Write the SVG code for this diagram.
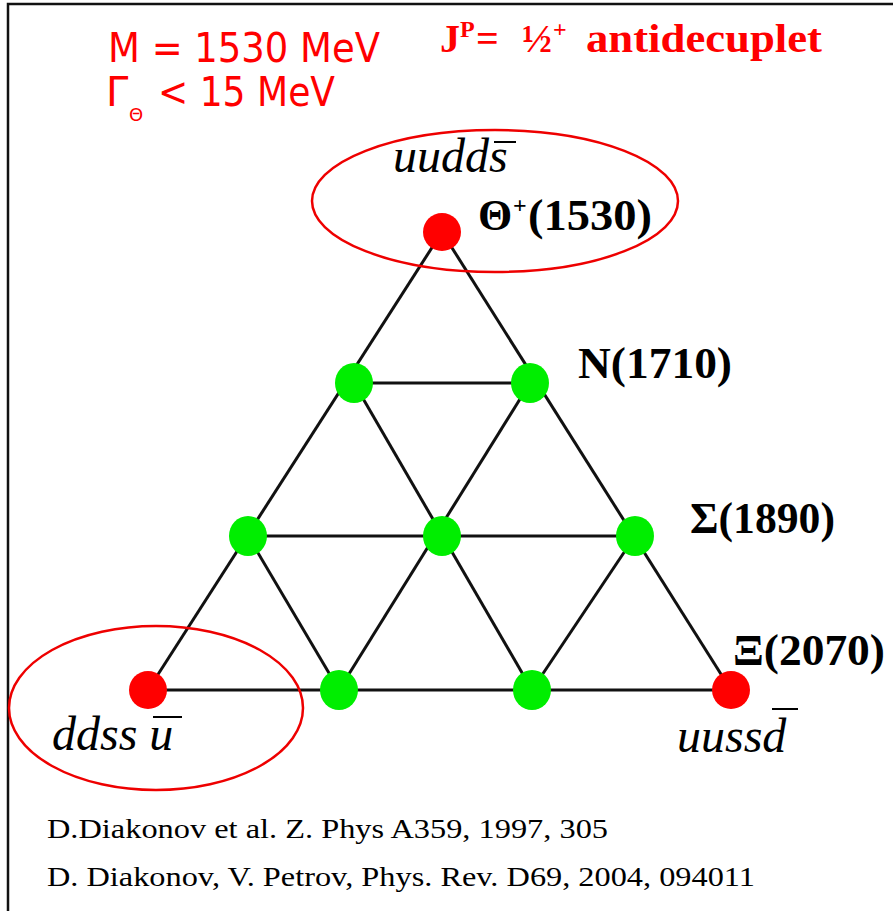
<svg xmlns="http://www.w3.org/2000/svg" width="893" height="911" viewBox="0 0 893 911">
<style>
.edge{stroke:#111;stroke-width:3;fill:none}
.red{fill:#ff0000}
.green{fill:#00ee00}
.ring{fill:none;stroke:#ee0000;stroke-width:2.5}
.lab{font-family:"Liberation Serif","Times New Roman",serif;font-weight:bold;fill:#000}
.q{font-family:"Liberation Serif","Times New Roman",serif;font-style:italic;fill:#000}
.hd{font-family:"DejaVu Sans","Liberation Sans",sans-serif;fill:#ff0000}
.hs{font-family:"Liberation Serif","Times New Roman",serif;font-weight:bold;fill:#ff0000}
.ref{font-family:"Liberation Serif","Times New Roman",serif;fill:#000;font-size:27px}
.bar{stroke:#000;stroke-width:2}
</style>
<rect width="893" height="911" fill="#fff"/>
<path d="M8 911V4H893" fill="none" stroke="#111" stroke-width="2.5"/>
<g id="header">
<text class="hd" x="108" y="62" font-size="40" textLength="272" lengthAdjust="spacingAndGlyphs">M = 1530 MeV</text>
<text class="hd" x="106" y="106" font-size="40">Γ</text>
<text class="hd" x="129" y="121" font-size="18">Θ</text>
<text class="hd" x="158" y="106" font-size="40" textLength="177" lengthAdjust="spacingAndGlyphs">&lt; 15 MeV</text>
<text class="hs" y="52" font-size="40"><tspan x="440">J</tspan><tspan x="460" font-size="24" dy="-15">P</tspan><tspan x="476" dy="15">=</tspan><tspan x="522">½</tspan><tspan x="553" font-size="24" dy="-15">+</tspan><tspan x="586" dy="15" textLength="236" lengthAdjust="spacingAndGlyphs">antidecuplet</tspan></text>
</g>
<g id="connectors">
<line class="edge" x1="442" y1="232" x2="148" y2="690"/>
<line class="edge" x1="442" y1="232" x2="731" y2="690"/>
<line class="edge" x1="148" y1="690" x2="731" y2="690"/>
<line class="edge" x1="354" y1="383" x2="530" y2="383"/>
<line class="edge" x1="248" y1="536" x2="635" y2="536"/>
<line class="edge" x1="354" y1="383" x2="532" y2="690"/>
<line class="edge" x1="530" y1="383" x2="339" y2="690"/>
<line class="edge" x1="248" y1="536" x2="339" y2="690"/>
<line class="edge" x1="635" y1="536" x2="532" y2="690"/>
</g>
<g id="theta">
<ellipse class="ring" cx="495" cy="201" rx="183" ry="71"/>
<circle class="red" cx="442" cy="232" r="19"/>
<text class="q" x="393" y="172" font-size="48">uudds</text>
<line class="bar" x1="494" y1="142" x2="516" y2="142"/>
<text class="lab" y="230" font-size="44"><tspan x="478">Θ</tspan><tspan x="513" font-size="24" dy="-17">+</tspan><tspan x="528" dy="17" textLength="124" lengthAdjust="spacingAndGlyphs">(1530)</tspan></text>
</g>
<g id="n-left"><ellipse class="green" cx="354" cy="383" rx="19" ry="20"/></g>
<g id="n-right"><ellipse class="green" cx="530" cy="383" rx="19" ry="20"/></g>
<text class="lab" x="578" y="378" font-size="44" textLength="154" lengthAdjust="spacingAndGlyphs">N(1710)</text>
<g id="sigma-left"><ellipse class="green" cx="248" cy="536" rx="19" ry="20"/></g>
<g id="sigma-mid"><ellipse class="green" cx="442" cy="536" rx="19" ry="20"/></g>
<g id="sigma-right"><ellipse class="green" cx="635" cy="536" rx="19" ry="20"/></g>
<text class="lab" x="690" y="533" font-size="44" textLength="145" lengthAdjust="spacingAndGlyphs">Σ(1890)</text>
<g id="xi-minus-left">
<ellipse class="ring" cx="156" cy="708" rx="147" ry="82"/>
<circle class="red" cx="148" cy="690" r="19"/>
<text class="q" x="52" y="750" font-size="48">ddss u</text>
<line class="bar" x1="153" y1="717" x2="182" y2="717"/>
</g>
<g id="xi-left"><ellipse class="green" cx="339" cy="690" rx="19" ry="20"/></g>
<g id="xi-right"><ellipse class="green" cx="532" cy="690" rx="19" ry="20"/></g>
<g id="xi-plus-right">
<circle class="red" cx="731" cy="690" r="19"/>
<text class="lab" x="733" y="665" font-size="44" textLength="152" lengthAdjust="spacingAndGlyphs">Ξ(2070)</text>
<text class="q" x="677" y="752" font-size="48">uussd</text>
<line class="bar" x1="772" y1="709" x2="798" y2="709"/>
</g>
<g id="refs">
<text class="ref" x="47" y="838" textLength="561" lengthAdjust="spacingAndGlyphs">D.Diakonov et al. Z. Phys A359, 1997, 305</text>
<text class="ref" x="47" y="886" textLength="708" lengthAdjust="spacingAndGlyphs">D. Diakonov, V. Petrov, Phys. Rev. D69, 2004, 094011</text>
</g>
</svg>
